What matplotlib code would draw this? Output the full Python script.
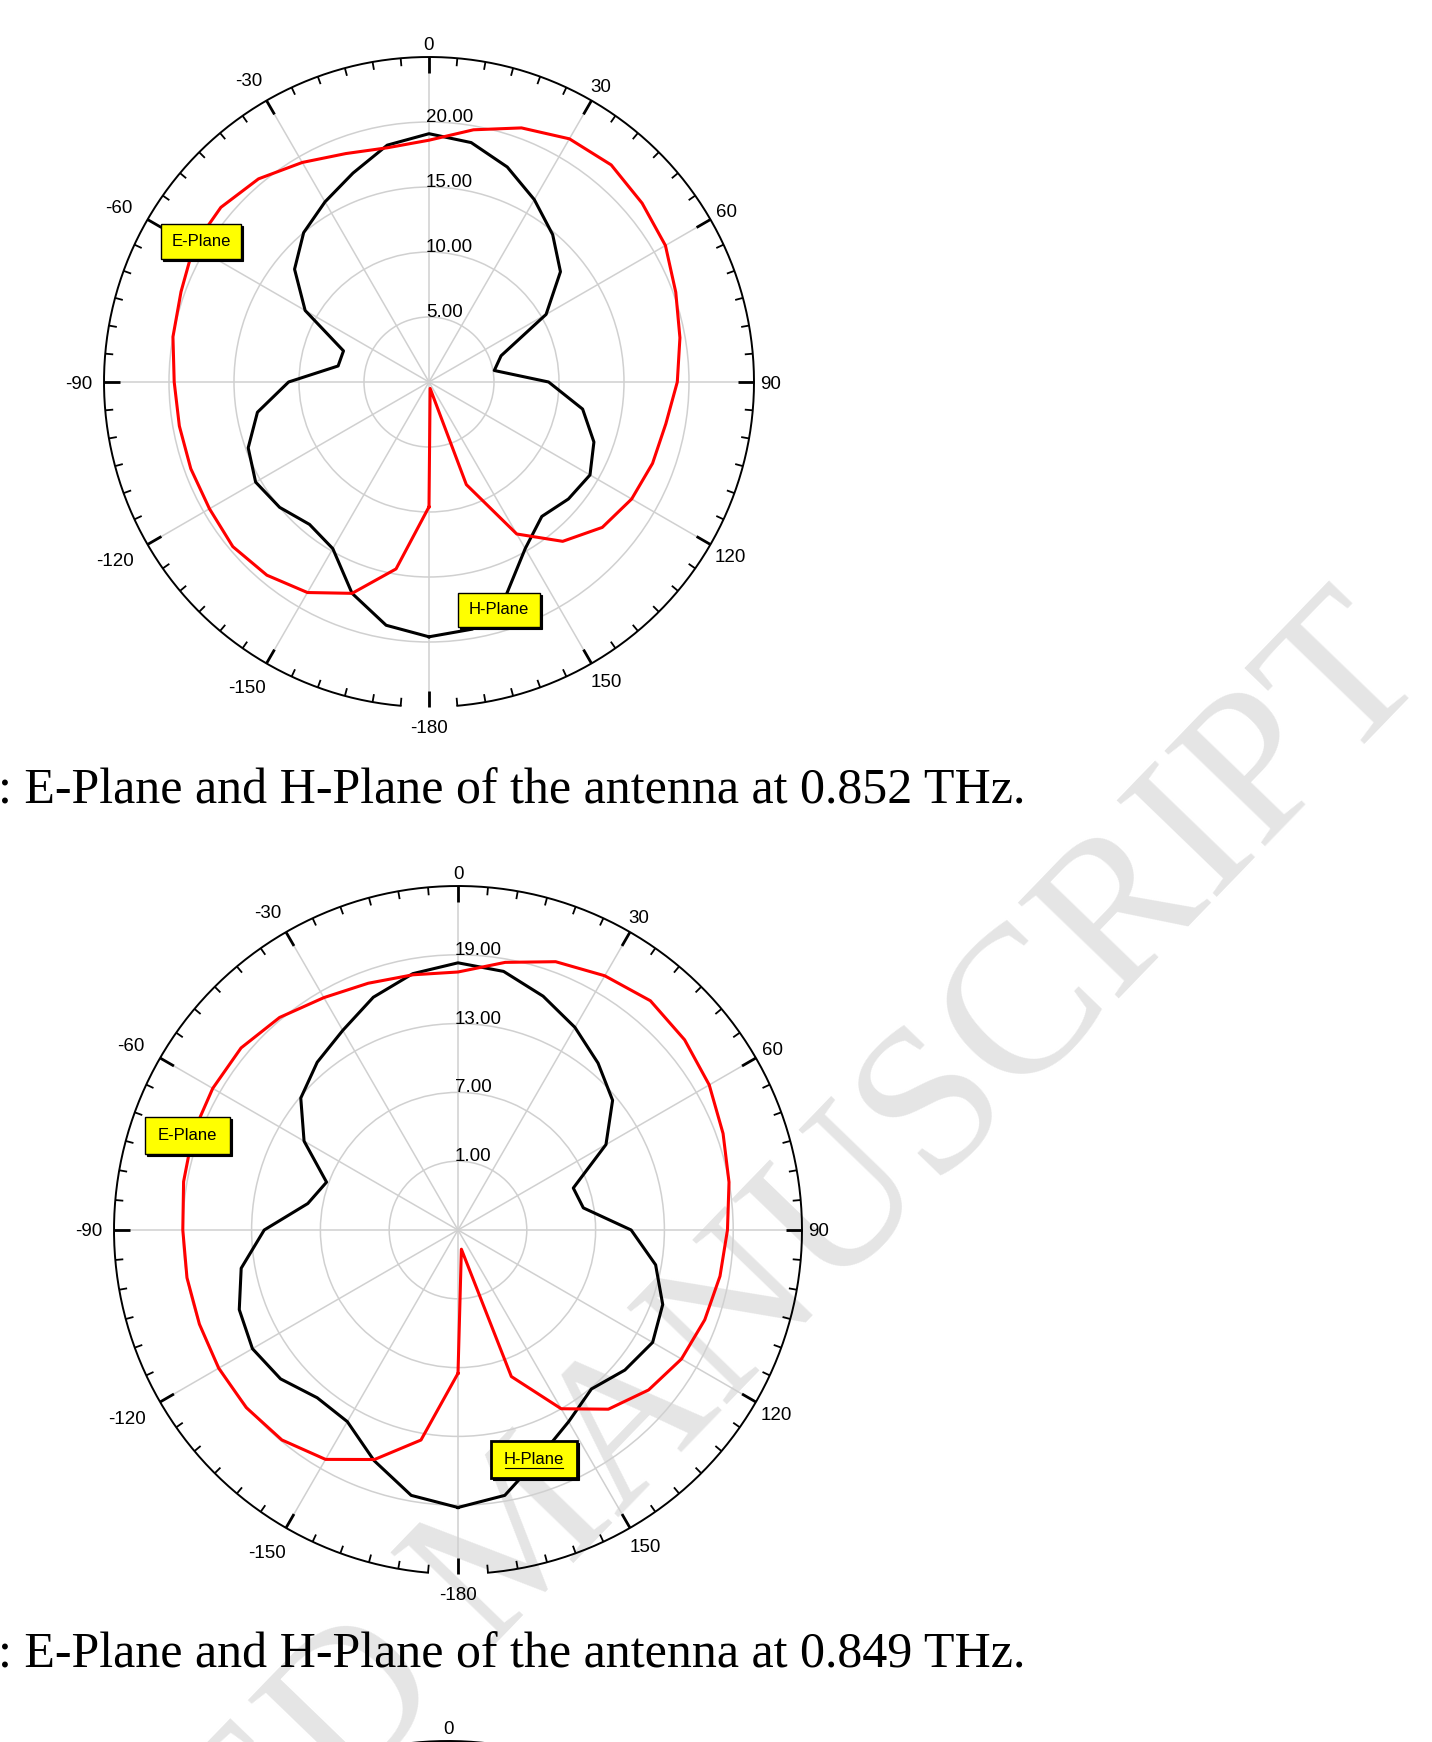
import numpy as np
import matplotlib.pyplot as plt
from matplotlib.patches import Rectangle
from matplotlib.lines import Line2D
from matplotlib.textpath import TextPath
from matplotlib.font_manager import FontProperties

W, H = 1432, 1742

# sample angles (deg, clockwise from top)
angles = [-180, -170, -160, -150, -140, -130, -120, -110, -100, -90,
          -80, -70, -60, -50, -40, -30, -20, -10, 0, 10,
          20, 30, 40, 50, 60, 70, 80, 90, 100, 110,
          120, 130, 140, 150, 160, 170]

# 0.852 THz
e_plane_852 = [9.6, 14.6, 17.3, 18.7, 19.4, 19.7, 19.5, 19.5, 19.5, 19.6,
               20.0, 20.3, 20.9, 20.9, 20.4, 19.5, 18.7, 18.3, 18.6, 19.7,
               20.8, 21.6, 21.8, 21.4, 21.0, 20.2, 19.6, 19.1, 18.5, 18.3,
               18.0, 17.4, 16.0, 13.5, 8.4, 0.5]
h_plane_852 = [19.6, 19.0, 17.3, 14.8, 14.3, 15.0, 15.4, 14.8, 13.4, 10.8,
               7.1, 7.0, 11.0, 13.5, 15.0, 16.0, 17.1, 18.5, 19.1, 18.7,
               17.6, 16.2, 14.8, 13.2, 10.4, 5.9, 5.1, 9.2, 12.0, 13.5,
               14.3, 14.0, 13.5, 14.8, 17.4, 19.3]

# 0.849 THz
e_plane_849 = [7.5, 13.6, 16.3, 18.1, 18.9, 19.1, 19.1, 19.0, 19.0, 19.0,
               19.3, 19.6, 19.7, 19.7, 19.2, 18.4, 17.9, 17.6, 17.5, 18.7,
               19.9, 20.6, 21.1, 20.8, 20.3, 19.6, 19.0, 18.5, 18.2, 17.9,
               17.5, 16.7, 15.4, 13.0, 8.6, -3.3]
h_plane_849 = [19.2, 18.5, 16.4, 14.3, 14.1, 15.2, 15.7, 15.3, 14.2, 11.9,
               8.3, 7.2, 10.5, 12.9, 14.1, 15.1, 16.6, 17.7, 18.3, 17.9,
               16.7, 15.4, 14.0, 12.6, 9.9, 5.7, 6.1, 10.1, 12.5, 14.0,
               14.6, 14.0, 13.1, 14.3, 16.0, 18.5]

rings_852 = [5, 10, 15, 20]
rings_849 = [1, 7, 13, 19]
theta_labels = [0, 30, 60, 90, 120, 150, 180, -150, -120, -90, -60, -30]
captions = [": E-Plane and H-Plane of the antenna at 0.852 THz.",
            ": E-Plane and H-Plane of the antenna at 0.849 THz."]

plt.rcParams['font.family'] = ['Liberation Sans', 'DejaVu Sans']
LABEL_PT = 13.5
label_prop = FontProperties(family='Liberation Sans', size=LABEL_PT)

fig = plt.figure(figsize=(W / 100, H / 100), dpi=100)
fig.patch.set_facecolor('white')


def fx(px):
    return px / W


def fy(py):
    return 1 - py / H


def polar_at(cx, cy, R, rmin, rmax, rings):
    ax = fig.add_axes([fx(cx - R), fy(cy + R), 2 * R / W, 2 * R / H], projection='polar')
    ax.set_theta_zero_location('N')
    ax.set_theta_direction(-1)
    ax.patch.set_alpha(0)
    ax.spines['polar'].set_visible(False)
    ax.set_xticks(np.deg2rad(np.arange(0, 360, 30)))
    ax.set_xticklabels([])
    ax.set_yticks(rings)
    ax.set_yticklabels([])
    ax.tick_params(length=0)
    ax.grid(True, color='#d0d0d0', lw=1.1)

    # outer circle, open around -180
    th = np.deg2rad(np.linspace(-175, 175, 400))
    ax.plot(th, np.full_like(th, rmax), color='black', lw=1.4, clip_on=False)
    span = rmax - rmin
    for a in range(-175, 185, 5):
        major = a % 30 == 0
        L = (16 if major else 8) / R * span
        t = np.deg2rad(a)
        ax.plot([t, t], [rmax, rmax - L], color='black', lw=2.0 if major else 1.3,
                solid_capstyle='butt', clip_on=False)

    px_size = LABEL_PT * 100 / 72
    for a in theta_labels:
        s, c = np.sin(np.deg2rad(a)), np.cos(np.deg2rad(a))
        txt = '-180' if a == 180 else str(a)
        ext = TextPath((0, 0), txt, size=px_size, prop=label_prop).get_extents()
        w, h = ext.width, px_size * 0.72
        if c < -0.9:
            gap = 13
        elif s < -0.3:
            gap = 12
        else:
            gap = 7
        d = gap + 0.5 * (w * abs(s) + h * abs(c))
        ox, oy = d * s, d * c
        if s < -0.3 and abs(c) > 0.1:
            ox -= 6
        elif s > 0.3 and c < -0.6:
            ox += 5
        ax.annotate(txt, xy=(np.deg2rad(a), rmax), xytext=(ox, oy),
                    textcoords='offset pixels', ha='center', va='center_baseline',
                    fontsize=LABEL_PT, annotation_clip=False)
    return ax


def draw_pattern(ax, e_vals, h_vals, rmin, rmax, rings):
    th = np.deg2rad(angles + [angles[0]])
    ax.plot(th, h_vals + [h_vals[0]], color='black', lw=2.2, zorder=4)
    ax.plot(th, e_vals + [e_vals[0]], color='#ff0000', lw=2.2, zorder=5)
    for v in rings:
        ax.annotate(f'{v:.2f}', xy=(0, v), xytext=(-3, 0), textcoords='offset pixels',
                    ha='left', va='baseline', fontsize=LABEL_PT)
    ax.set_ylim(rmin, rmax)


def tag(x0, y0, x1, y1, text, lw=1.0, underline=False):
    fig.add_artist(Rectangle((fx(x0) + 2 / W, fy(y1) - 2 / H), fx(x1 - x0), (y1 - y0) / H,
                             transform=fig.transFigure, facecolor='black', edgecolor='black',
                             lw=0.8, zorder=6))
    fig.add_artist(Rectangle((fx(x0), fy(y1)), fx(x1 - x0), (y1 - y0) / H,
                             transform=fig.transFigure, facecolor='#ffff00', edgecolor='black',
                             lw=lw, zorder=7))
    xc, yc = (x0 + x1) / 2, (y0 + y1) / 2
    fig.text(fx(xc), fy(yc), text, ha='center', va='center', fontsize=12, zorder=8)
    if underline:
        fig.add_artist(Line2D([fx(xc - 29), fx(xc + 29)], [fy(yc + 8), fy(yc + 8)],
                              color='black', lw=0.8, zorder=8))


# watermark
fig.text(fx(1432), fy(674), 'ACCEPTED MANUSCRIPT', rotation=46, rotation_mode='anchor',
         ha='right', va='baseline', fontsize=152, family='Liberation Serif',
         color='#e5e5e5', zorder=-1)

ax1 = polar_at(429, 382, 325, 0, 25, rings_852)
draw_pattern(ax1, e_plane_852, h_plane_852, 0, 25, rings_852)
tag(161, 224, 241, 259, 'E-Plane')
tag(458, 593, 540, 627, 'H-Plane')
fig.text(fx(-2), fy(803), captions[0], ha='left', va='baseline', fontsize=36,
         family='Liberation Serif')

ax2 = polar_at(458, 1230, 344, -5, 25, rings_849)
draw_pattern(ax2, e_plane_849, h_plane_849, -5, 25, rings_849)
tag(145, 1117, 230, 1154, 'E-Plane')
tag(491, 1441, 577, 1478, 'H-Plane', lw=2.0, underline=True)
fig.text(fx(-2), fy(1667), captions[1], ha='left', va='baseline', fontsize=36,
         family='Liberation Serif')

# next figure peeking in at the bottom edge
ax3 = polar_at(448, 1741 + 340, 340, 0, 25, [])
ax3.set_ylim(0, 25)

fig.savefig('out.png', dpi=100)
